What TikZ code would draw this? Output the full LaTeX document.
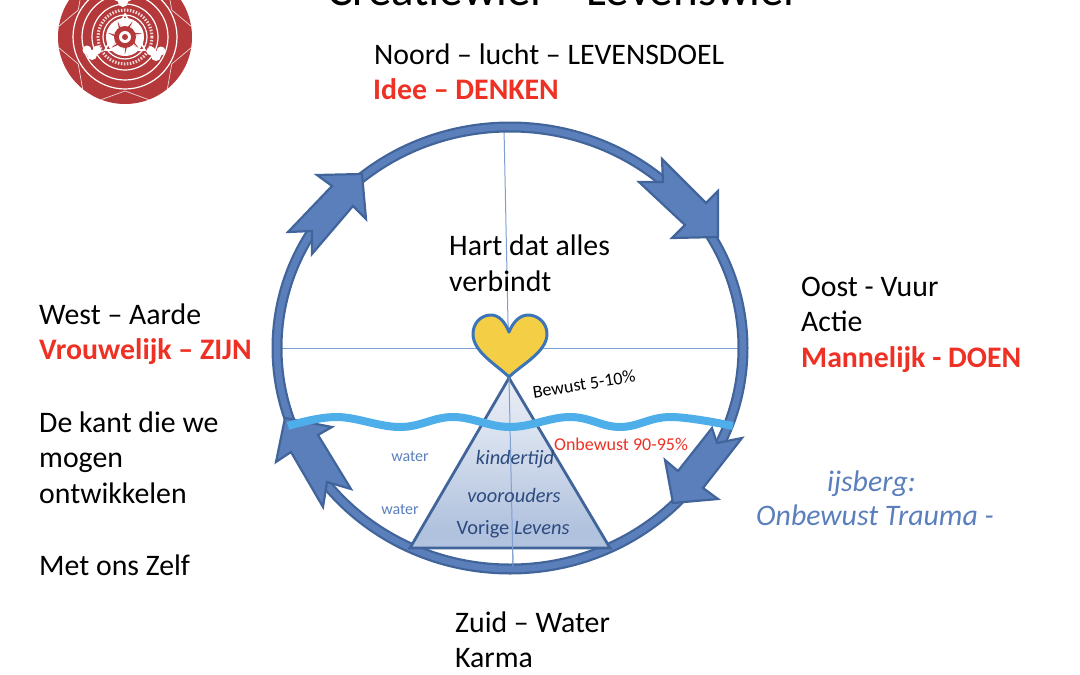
\documentclass[tikz,border=0pt]{standalone}
\usepackage{fontspec}
\setmainfont{Carlito}
\usetikzlibrary{shadings}
\definecolor{ringfill}{HTML}{5B7FBA}
\definecolor{ringedge}{HTML}{41659A}
\definecolor{axisblue}{HTML}{7F9FCF}
\definecolor{wavy}{HTML}{4DAEEA}
\definecolor{heartfill}{HTML}{F4CF45}
\definecolor{heartedge}{HTML}{3B74B8}
\definecolor{alarm}{HTML}{EE3124}
\definecolor{softblue}{HTML}{5B7FBC}
\definecolor{deepblue}{HTML}{2C4A7E}
\definecolor{logored}{HTML}{B5393A}
\pgfdeclareverticalshading{berg}{100bp}{
  color(0bp)=(white!70!ringfill!45);
  color(12bp)=(ringfill!42);
  color(30bp)=(ringfill!48);
  color(60bp)=(ringfill!22);
  color(85bp)=(ringfill!8);
  color(100bp)=(ringfill!3)}
\tikzset{
  label/.style={anchor=base west,inner sep=0pt,yshift=-1pt,font=\fontsize{29.8}{30}\selectfont,text=black},
  hot/.style={label,font=\fontsize{29.8}{30}\selectfont\bfseries,text=alarm},
  berglabel/.style={anchor=center,inner sep=0pt,font=\fontsize{20.4}{21}\selectfont,text=deepblue},
  small/.style={anchor=center,inner sep=0pt,font=\fontsize{18}{18}\selectfont},
  blockarrow/.style={fill=ringfill,draw=ringedge,line width=2.2pt,line join=miter},
  axisline/.style={draw=axisblue,line width=1pt},
  logoline/.style={draw=white,line width=1.2pt},
  logothin/.style={draw=white!80!logored,line width=.7pt}
}
\begin{document}
\begin{tikzpicture}[x=1pt,y=-1pt]
\useasboundingbox (0,0) rectangle (1080,675);
\clip (0,0) rectangle (1080,675);
% logo
\fill[logored] (125,37) circle (67);
\begin{scope}
\clip (125,37) circle (67);
\draw[logoline] (125,37) circle (52) (125,37) circle (43) (125,37) circle (33) (125,37) circle (22);
\draw[logothin,dash pattern=on 1.5pt off 1.5pt,line width=3pt] (125,37) circle (27);
\foreach \a in {0,60,...,300}{
  \draw[logothin] (125,37) ++(\a+30:54) -- ++(\a+100:30) (125,37) ++(\a+30:54) -- ++(\a-40:30);
}
\draw[logoline,line width=1.6pt] (125,14) -- (105,50) -- (145,50) -- cycle;
\fill[white] (125,37) circle (19);
\fill[logored] (125,37) circle (11);
\foreach \a in {0,51.4,...,350}{
  \fill[logored] (125,37) ++(\a+90:17) -- ++(\a+285:8) -- ++(\a+180:0) -- (125,37) ++(\a+90:17) -- ++(\a+255:8) -- cycle;
}
\fill[white] (125,37) circle (6);
\fill[logored] (125,37) circle (3);
\foreach \p in {(92,52),(156,53),(123,-1)}{
  \fill[white] \p ++(-5,-2) circle (4.5) \p ++(5,-2) circle (4.5) \p ++(0,3) circle (5);
}
\end{scope}
% title
\node[anchor=base,inner sep=0pt,font=\fontsize{47}{47}\selectfont] (title) at (561,5) {Creatiewiel  – Levenswiel};
% axes
\draw[axisline] (504,128) -- (513,566);
\draw[axisline] (281,348) -- (739,348);
% ring
\draw[ringedge,line width=11pt] (510,348) ellipse [x radius=233,y radius=221];
\draw[ringfill,line width=6.5pt] (510,348) ellipse [x radius=233,y radius=221];
% triangle
\shade[shading=berg] (509,378) -- (410,548) -- (610,548) -- cycle;
\draw[ringedge,line width=2.8pt,line join=miter] (509,378) -- (410,548) -- (610,548) -- cycle;
\draw[axisline] (509,378) -- (513,566);
% heart
\draw[draw=heartedge,fill=heartfill,line width=3pt,line join=round]
  (509,332) .. controls (505,322) and (499,315) .. (491,315)
  .. controls (481,315) and (473,323) .. (473,334)
  .. controls (473,352) and (497,365) .. (509,377)
  .. controls (521,365) and (547,352) .. (547,334)
  .. controls (547,323) and (538,315) .. (528,315)
  .. controls (520,315) and (513,322) .. (509,332) -- cycle;
% block arrows
\draw[blockarrow] (317,175) -- (362,174) -- (366,219) -- (353,206) -- (312,254) -- (312,231) -- (288,232) -- (332,186) -- cycle;
\draw[blockarrow] (662,159) -- (663,182) -- (639,182) -- (685,225) -- (672,238) -- (718,237) -- (718,191) -- (706,203) -- cycle;
\draw[blockarrow] (285,418) -- (332,427) -- (318,435) -- (351,489) -- (327,482) -- (323,507) -- (291,452) -- (276,462) -- cycle;
\draw[blockarrow] (742,438) -- (717,443) -- (712,428) -- (678,471) -- (665,460) -- (673,503) -- (718,499) -- (703,488) -- cycle;
% waterline
\draw[wavy,line width=8pt] plot[smooth,tension=.65] coordinates {(288,426) (337,417) (400,427) (453,417) (510,427) (570,417) (620,427) (670,417) (733,426)};
% text
\node[label] (noord) at (374,63) {Noord – lucht – LEVENSDOEL};
\node[hot] (idee) at (373,98) {Idee – DENKEN};
\node[label] (hart1) at (449,254) {Hart dat alles};
\node[label] (hart2) at (449,290) {verbindt};
\node[label] (oost1) at (801,295) {Oost - Vuur};
\node[label] (oost2) at (801,330) {Actie};
\node[hot] (oost3) at (801,366) {Mannelijk - DOEN};
\node[label] (west1) at (39,323) {West – Aarde};
\node[hot] (west2) at (39,358) {Vrouwelijk – ZIJN};
\node[label] (west3) at (39,431) {De kant die we};
\node[label] (west4) at (39,466) {mogen};
\node[label] (west5) at (39,502) {ontwikkelen};
\node[label] (west6) at (39,574) {Met ons Zelf};
\node[label] (zuid1) at (455,631) {Zuid – Water};
\node[label] (zuid2) at (455,666) {Karma};
\node[label,text=softblue,font=\fontsize{29.8}{30}\selectfont\itshape] (ijs1) at (827,490) {ijsberg:};
\node[label,text=softblue,font=\fontsize{29.8}{30}\selectfont\itshape] (ijs2) at (756,524) {Onbewust Trauma -};
\node[small,rotate=9] (bewust) at (584,384) {Bewust 5-10\%};
\node[small,text=alarm] (onbewust) at (621,444) {Onbewust 90-95\%};
\node[small,font=\fontsize{16}{16}\selectfont,text=softblue] (water1) at (410,456) {water};
\node[small,font=\fontsize{16}{16}\selectfont,text=softblue] (water2) at (400,509) {water};
\node[berglabel,font=\fontsize{20.4}{21}\selectfont\itshape] (kind) at (515,459) {kindertijd};
\node[berglabel,font=\fontsize{20.4}{21}\selectfont\itshape] (voor) at (514,495) {voorouders};
\node[berglabel] (vorige) at (513,529) {Vorige \textit{Levens}};
\end{tikzpicture}
\end{document}
